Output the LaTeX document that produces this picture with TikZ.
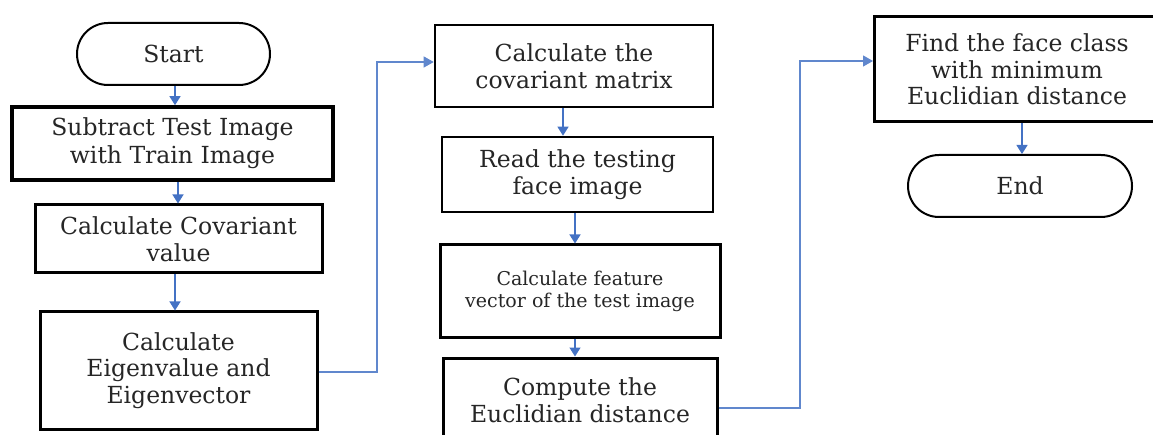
\documentclass[tikz,border=0pt]{standalone}
\usepackage{fontspec}
\setmainfont{DejaVu Serif}
\usetikzlibrary{arrows.meta}
\definecolor{flowblue}{HTML}{4472C4}
\tikzset{
  box/.style={draw=black, line width=3pt, rectangle, fill=white, align=center,
    inner sep=0pt, font=\fontsize{23.5}{26.5}\selectfont, text=black!85},
  term/.style={draw=black, line width=2pt, rounded corners=31pt, fill=white,
    align=center, inner sep=0pt, minimum height=62pt, font=\fontsize{23.5}{26.5}\selectfont, text=black!85},
  flow/.style={draw=flowblue, line width=1.3pt, -{Triangle[length=9pt,width=11pt]}},
  link/.style={draw=flowblue!85!white, line width=1.2pt, -{Triangle[length=10pt,width=11pt]}},
}
\begin{document}
\begin{tikzpicture}[x=1pt, y=-1pt]
  \useasboundingbox (0,0) rectangle (1153,435);
  \clip (0,0) rectangle (1153,435);

  % left column
  \node[term, minimum width=193pt] (start) at (173.5,54) {Start};
  \node[box, minimum width=321pt, minimum height=73pt, line width=3.6pt,
    font=\fontsize{23.5}{28}\selectfont] (sub) at (172.5,143.5)
    {Subtract Test Image\\with Train Image};
  \node[box, minimum width=287pt, minimum height=68pt] (cov) at (178.5,239)
    {Calculate Covariant\\value};
  \node[box, minimum width=277pt, minimum height=117pt] (eig) at (178.5,370.5)
    {Calculate\\Eigenvalue and\\Eigenvector};

  % middle column
  \node[box, minimum width=278pt, minimum height=82pt, line width=2.6pt] (covm) at (574,66)
    {Calculate the\\covariant matrix};
  \node[box, minimum width=271pt, minimum height=75pt, line width=2.6pt] (read) at (577.5,174.5)
    {Read the testing\\face image};
  \node[box, minimum width=280pt, minimum height=92pt, font=\fontsize{19}{22}\selectfont] (feat) at (580,291)
    {Calculate feature\\vector of the test image};
  \node[box, minimum width=274pt, minimum height=104pt] (comp) at (580,410) {};
  \node[font=\fontsize{23.5}{26.5}\selectfont, text=black!85, align=center] (comptext) at (580,400)
    {Compute the\\Euclidian distance};

  % right column
  \node[box, minimum width=285pt, minimum height=105pt] (find) at (1017,69.5)
    {Find the face class\\with minimum\\Euclidian distance};
  \node[term, minimum width=224pt] (end) at (1020,186) {End};

  % vertical flow arrows
  \draw[flow] (start.south -| 175,0) -- (sub.north -| 175,0);
  \draw[flow] (sub.south -| 178,0) -- (cov.north -| 178,0);
  \draw[flow] (cov.south -| 175,0) -- (eig.north -| 175,0);
  \draw[flow] (covm.south -| 563,0) -- (read.north -| 563,0);
  \draw[flow] (read.south -| 575,0) -- (feat.north -| 575,0);
  \draw[flow] (feat.south -| 575,0) -- (comp.north -| 575,0);
  \draw[flow] (find.south -| 1022,0) -- (end.north -| 1022,0);

  % column-to-column links
  \coordinate (j1) at (377,62);
  \coordinate (j2) at (800,61);
  \draw[link] (eig.east |- 0,372) -| (j1) -- (j1 -| covm.west);
  \draw[link] (comp.east |- 0,408) -| (j2) -- (j2 -| find.west);
\end{tikzpicture}
\end{document}
